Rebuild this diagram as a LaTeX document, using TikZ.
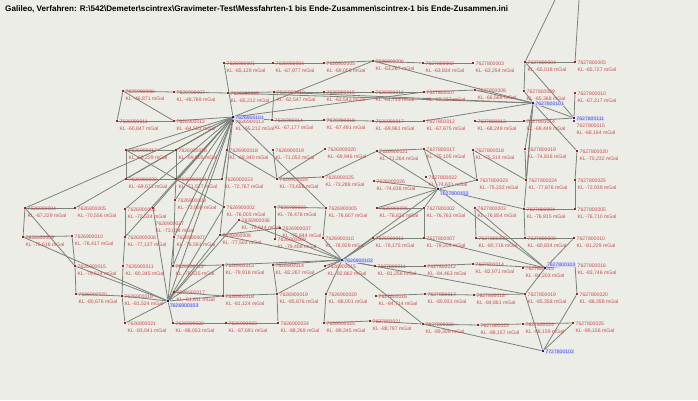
\documentclass[tikz,border=0pt]{standalone}
\usepackage{fontspec}
\setmainfont{Liberation Sans}
\usetikzlibrary{backgrounds}
\definecolor{bgc}{RGB}{237,237,232}
\definecolor{edgec}{RGB}{122,130,122}
\definecolor{lblred}{RGB}{200,75,75}
\definecolor{ptred}{RGB}{150,40,40}
\definecolor{hubblue}{RGB}{30,30,150}
\definecolor{lblblue}{RGB}{80,80,220}
\definecolor{hilite}{RGB}{214,218,240}
\tikzset{
  pt/.style={rectangle,fill=ptred,inner sep=0pt,minimum size=2.4pt},
  hubpt/.style={rectangle,fill=hubblue,inner sep=0pt,minimum size=2.8pt},
  lbl/.style={anchor=north west,align=left,inner sep=0pt,text=lblred,
    font=\fontsize{5.1}{7}\selectfont},
  hublbl/.style={anchor=west,inner sep=0.3pt,text=lblblue,fill=hilite,
    font=\fontsize{5.1}{6}\selectfont},
  edge/.style={draw=edgec,line width=0.8pt},
}
\newcommand\stn[5]{%
  \node[pt] (#1) at (#2,#3) {};
  \node[lbl] (#1l) at ([xshift=2.5pt,yshift=1pt]#1.center) {#4\\KL #5 mGal};
}
\newcommand\stnlow[5]{%
  \node[pt] (#1) at (#2,#3) {};
  \node[lbl] (#1l) at ([xshift=2.5pt,yshift=-3pt]#1.center) {#4\\KL #5 mGal};
}
\newcommand\hubst[4]{%
  \node[hubpt] (#1) at (#2,#3) {};
  \node[hublbl] (#1l) at ([xshift=2pt,yshift=-1pt]#1.center) {#4};
}
\newcommand\hubstlow[4]{%
  \node[hubpt] (#1) at (#2,#3) {};
  \node[hublbl,anchor=north west] (#1l) at ([xshift=1.5pt,yshift=-2pt]#1.center) {#4};
}
\newcommand\hubsthigh[4]{%
  \node[hubpt] (#1) at (#2,#3) {};
  \node[hublbl,anchor=south west] (#1l) at ([xshift=1.5pt,yshift=1pt]#1.center) {#4};
}
\begin{document}
\begin{tikzpicture}[x=1pt,y=-1pt]
\useasboundingbox (0,0) rectangle (698,400);
\node[anchor=west,inner sep=0pt,font=\bfseries\fontsize{8.1}{9}\selectfont] (title) at (5,9)
 {Galileo, Verfahren: R:\textbackslash 542\textbackslash Demeter\textbackslash scintrex\textbackslash Gravimeter-Test\textbackslash Messfahrten-1 bis Ende-Zusammen\textbackslash scintrex-1 bis Ende-Zusammen.ini};
\coordinate (top1) at (555,0);
\coordinate (top2) at (579,0);
% row 0
\stn{a4}{224}{63}{7626900001}{-65,129}
\stn{a5}{273}{63}{7626900004}{-67,977}
\stn{a6}{324}{63}{7626900005}{-69,056}
\stn{a7}{373}{61}{7626900006}{-63,267}
\stn{a8}{423}{63}{7627800002}{-63,834}
\stn{a9}{473}{63}{7627800003}{-63,254}
\stn{a10}{525}{62}{7627800004}{-65,018}
\stn{a11}{575}{62}{7627800005}{-65,727}
% row 1
\stn{b2}{123}{91}{7626900008}{-46,871}
\stn{b3}{174}{92}{7626900007}{-48,769}
\stn{b4}{228}{93}{7626900009}{-65,212}
\stn{b5}{274}{92}{7626900010}{-62,547}
\stn{b6}{324}{92}{7626900015}{-63,543}
\stn{b7}{373}{92}{7626900016}{-64,713}
\stn{b8}{424}{92}{7627800007}{-65,237}
\stn{b9}{475}{90}{7627800008}{-66,566}
\stn{b10}{524}{91}{7627800009}{-65,368}
\stn{b11}{575}{93}{7627800010}{-67,217}
% row 2
\stn{c2}{117}{121}{7626900011}{-60,847}
\stn{c3}{174}{121}{7626900012}{-64,553}
\stn{c4}{233}{121}{7626900013}{-65,212}
\stn{c5}{272}{120}{7626900014}{-67,177}
\stn{c6}{324}{120}{7626900018}{-67,491}
\stn{c7}{373}{121}{7626900017}{-69,961}
\stn{c8}{424}{121}{7627800012}{-67,675}
\stn{c9}{475}{121}{7627800013}{-68,249}
\stn{c10}{524}{121}{7627800014}{-69,449}
\stnlow{c11}{574}{121}{7627800015}{-68,164}
% row 3
\stn{d2}{126}{150}{7626900017}{-69,229}
\stn{d3}{176}{150}{7626900016}{-69,805}
\stn{d4}{227}{150}{7626900018}{-69,340}
\stn{d5}{273}{150}{7626900019}{-71,052}
\stn{d6}{325}{149}{7626900020}{-69,946}
\stn{d7}{377}{151}{7626900021}{-71,264}
\stn{d8}{424}{149}{7627800017}{-75,105}
\stn{d9}{473}{150}{7627800018}{-75,314}
\stn{d10}{525}{149}{7627800019}{-74,816}
\stn{d11}{577}{151}{7627800020}{-70,232}
% row 4
\stn{e2}{126}{179}{7626900022}{-69,671}
\stn{e3}{176}{179}{7626900021}{-71,527}
\stn{e4}{222}{179}{7626900023}{-72,767}
\stn{e5}{277}{179}{7626900024}{-73,656}
\stn{e6}{323}{177}{7626900025}{-73,288}
\stn{e7}{374}{181}{7626900026}{-74,638}
\stn{e8}{426}{177}{7627800022}{-74,631}
\stn{e9}{477}{180}{7627800023}{-75,232}
\stn{e10}{526}{180}{7627800024}{-77,876}
\stn{e11}{575}{180}{7627800025}{-72,939}
% row 5
\stn{f0}{25}{208}{7626900004}{-67,229}
\stn{f1}{75}{208}{7626900005}{-70,556}
\stn{f2}{125}{209}{7626900001}{-72,534}
\node[pt] (x1) at (153,208) {};
\node[lbl] (x1l) at ([xshift=2.5pt,yshift=-14pt]x1.center) {7626900027\\KL -73,014 mGal};
\stn{f3}{175}{200}{7626900003}{-73,909}
\stn{f4}{224}{207}{7626900002}{-76,005}
\stn{x3}{239}{220}{7626900036}{-75,644}
\stn{f5}{275}{207}{7626900003}{-76,478}
\stn{f6}{326}{208}{7626900005}{-76,607}
\stn{f7}{377}{208}{7626900006}{-76,831}
\stn{f8}{424}{208}{7627800002}{-76,763}
\stn{f9}{475}{208}{7627800003}{-76,854}
\stn{f10}{524}{209}{7627800004}{-76,915}
\stn{f11}{575}{209}{7627800005}{-76,710}
% row 6
\stn{g0}{23}{237}{7626900009}{-75,616}
\stn{g1}{72}{236}{7626900010}{-76,417}
\stn{g2}{125}{237}{7626900006}{-77,137}
\stn{g3}{174}{237}{7626900007}{-76,591}
\stn{g4}{220}{235}{7626900008}{-77,503}
\stn{x4}{280}{228}{7626900037}{-75,844}
\stn{g5}{275}{239}{7626900009}{-79,408}
\stn{g6}{323}{238}{7626900010}{-78,929}
\stn{g7}{373}{238}{7626900011}{-79,175}
\stn{g8}{424}{238}{7627800007}{-79,205}
\stn{g9}{476}{238}{7627800008}{-80,716}
\stn{g10}{525}{238}{7627800009}{-80,834}
\stn{g11}{574}{238}{7627800010}{-81,229}
% row 7
\stn{h1}{75}{266}{7626900015}{-79,514}
\stn{h2}{123}{266}{7626900011}{-80,345}
\stn{h3}{173}{266}{7626900012}{-79,535}
\stn{h4}{223}{265}{7626900013}{-79,918}
\stn{h5}{273}{265}{7626900014}{-82,267}
\stn{h6}{325}{266}{7626900015}{-82,862}
\stn{h7}{375}{266}{7627800011}{-81,256}
\stn{h8}{425}{266}{7627800012}{-84,463}
\stn{h9}{473}{264}{7627800014}{-82,971}
\stn{h10}{523}{268}{7627800015}{-84,203}
\stn{h11}{575}{265}{7627800016}{-83,746}
% row 8
\stn{i1}{76}{294}{7626900020}{-80,676}
\stn{i2}{122}{296}{7626900016}{-81,524}
\stn{i3}{174}{292}{7626900017}{-81,611}
\stn{i4}{223}{296}{7626900018}{-81,124}
\stn{i5}{277}{294}{7626900019}{-85,676}
\stn{i6}{326}{294}{7626900020}{-86,001}
\stn{i7}{376}{296}{7627800016}{-84,714}
\stn{i8}{425}{294}{7627800017}{-85,931}
\stn{i9}{474}{295}{7627800018}{-84,861}
\stn{i10}{525}{294}{7627800019}{-85,358}
\stn{i11}{577}{294}{7627800020}{-88,358}
% row 9
\stn{j2}{125}{323}{7626900021}{-83,041}
\stn{j3}{173}{323}{7626900022}{-86,053}
\stn{j4}{226}{323}{7626900023}{-87,691}
\stn{j5}{278}{323}{7626900024}{-88,269}
\stn{j6}{324}{323}{7626900025}{-89,245}
\stn{j7}{370}{321}{7627800021}{-88,797}
\stn{j8}{423}{324}{7627800022}{-89,309}
\stn{j9}{478}{325}{7627800023}{-88,157}
\stn{j10}{523}{324}{7627800024}{-88,159}
\stn{j11}{573}{323}{7627800025}{-89,156}
% hubs
\hubst{z1}{233}{117}{7626900101}
\hubst{z2}{533}{103}{7627800101}
\hubst{z2b}{574}{118}{7627800111}
\hubstlow{z3}{438}{189}{7627800102}
\hubstlow{z4}{168}{301}{7626900103}
\hubst{z5}{342}{260}{7626900102}
\hubsthigh{z6}{545}{268}{7627800103}
\hubst{z7}{543}{351}{7727800102}
\begin{pgfonlayer}{background}
\fill[bgc] (0,0) rectangle (698,400);
\foreach \p/\q in {a4/a5,a5/a6,a6/a7,a7/a8,a8/a9,a4/z1,a7/z1,a7/z2,a10/a11,a10/top1,a11/top2,
  a10/b10,a10/z2b,b11/z2b,b10/z2,z2/z2b,c10/z2b,
  b2/b3,b3/b4,b4/b5,b5/b6,b6/b7,b7/b8,b8/b9,b9/z2,b4/z2,b5/z2,z1/b8,
  b2/c2,b2/c3,c2/c3,c3/z1,z1/c5,b5/c5,c5/c6,c6/c7,c7/c8,c8/z2,c9/c10,
  z1/d2,z1/d3,z1/e2,z1/e3,z1/f0,z1/f1,z1/f2,z1/x1,z1/f3,z1/g2,z1/g3,z1/d4,z1/e4,z1/f6,z1/z4,z1/h3,z1/g4,
  d2/d3,d2/e2,e2/e3,d3/e3,e3/f3,f3/g3,g3/h3,d4/e4,d4/e5,d5/e5,e5/d6,e5/e6,e6/d7,e3/e4,d2/f4,
  f0/f1,f0/g0,g0/g1,g1/h1,f0/h1,g0/z4,f2/g2,g2/h2,
  f5/f6,f5/g5,f6/g6,f7/z3,z5/f8,g6/z5,g7/z5,x4/z5,g4/z5,x3/z5,g4/x4,
  d8/z3,d8/e9,d9/e10,d9/e9,d10/e10,d10/z2,z2/d11,d11/e11,e11/f11,f10/f11,g10/g11,g11/z6,
  z3/e7,z3/f8,z3/e9,z3/f10,z3/z6,z3/z5,d7/z3,d7/d8,f7/f8,g7/g8,
  f8/g8,f9/g9,f10/g10,g8/z6,f9/z6,g9/g10,z2/f10,z2/e10,
  z5/h5,z5/h6,z5/i5,z5/i6,z5/j8,z5/h7,z5/h4,z5/i10,
  h5/i5,i5/j5,i4/i5,i6/j6,j4/j5,j6/j7,j7/j8,i7/i8,h7/h8,
  h8/h9,h9/z6,z6/h11,h11/i11,i11/z7,i10/z7,i10/z6,j11/z7,j10/j11,j9/j10,j8/j9,j8/z7,i9/i10,i8/i9,
  h1/i1,h1/z4,i1/i2,i2/z4,h2/i2,i2/j2,j2/z4,j3/z4,j3/j4,i3/z4,i3/i4,h4/i4,h3/h4,z4/i4,z4/f4,z4/x1,z4/g4,z4/x3,z4/h4,z4/g3}
  \draw[edge] (\p) -- (\q);
\end{pgfonlayer}
\end{tikzpicture}
\end{document}
